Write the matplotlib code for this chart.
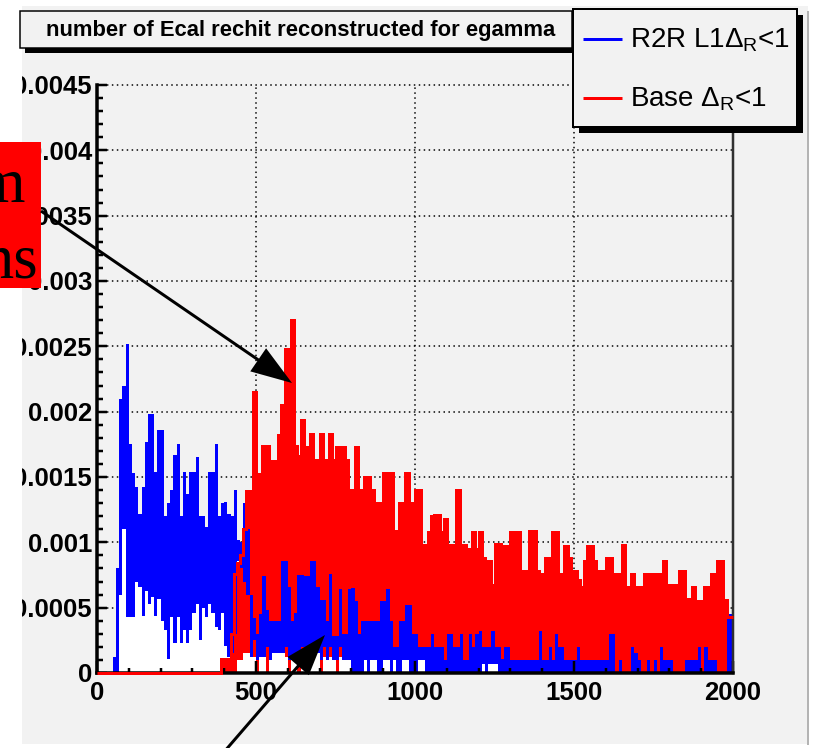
import matplotlib
matplotlib.use("Agg")
import matplotlib.pyplot as plt
import numpy as np
from matplotlib.patches import Rectangle, FancyArrow
from matplotlib.ticker import MultipleLocator, FuncFormatter

plt.rcParams['font.family'] = ['Liberation Sans', 'DejaVu Sans']
plt.rcParams['mathtext.fontset'] = 'custom'
plt.rcParams['mathtext.rm'] = 'Liberation Sans'
plt.rcParams['mathtext.it'] = 'Liberation Sans'

W, H, DPI = 814, 748, 100
PX = 72.0 / DPI          # points per pixel

# histogram contents, 10-wide bins from 0 to 2000, in units of 1e-4
bin_width = 10
scale = 1e-4

# R2R L1 dR<1 : upper and lower edge of the drawn band per bin
r2r_hi = [
    0, 0, 0, 0, 0, 1.2, 8, 21, 22, 25.2,
    17.5, 15.3, 14.2, 12.2, 14.2, 17.7, 19.8, 19.8, 15.4, 18.6,
    18.6, 12, 13, 14, 16.7, 17.5, 12, 15.4, 13.7, 15.4,
    15.4, 16.5, 12, 12, 11.2, 15.4, 15.4, 17.5, 12, 13,
    13.1, 12.2, 12, 14, 10.2, 10, 13, 11, 6, 4.2,
    3, 4.5, 7.4, 4.8, 4, 4, 4, 4, 8.6, 8.6,
    6.6, 4, 4.6, 7.5, 7.5, 7.4, 7.4, 8.6, 8.6, 6.6,
    5.6, 5.6, 4, 7.6, 2.8, 2.8, 6.4, 3, 3, 6.4,
    6.5, 5.5, 3, 4, 4, 4, 4, 4, 4, 5.5,
    5.5, 6.4, 4, 2, 2, 4, 4, 5.2, 5.2, 3,
    3, 2, 2, 2, 2, 3, 2, 2, 2, 1,
    3, 3, 2, 2, 3, 1, 1, 3, 2, 3,
    3.2, 2, 2, 2, 3.2, 2, 2, 1.1, 2, 2,
    1, 1, 1, 1, 1, 1, 1, 1, 1, 3.2,
    1, 1, 2, 1, 3, 2, 2, 1, 1, 1,
    1, 2, 1, 1, 1, 1, 1, 1, 1, 1,
    1, 3, 3, 0, 1, 0, 0, 0, 2, 1.5,
    1, 0, 0, 1, 0, 1, 0, 2, 1, 1,
    1, 0, 0, 0, 0, 1, 1, 1, 1, 2,
    0, 2, 1, 1, 1, 0, 0, 0, 4.5, 4.5,
]
r2r_lo = [
    0, 0, 0, 0, 0, 0, 0, 6, 11, 4.3,
    4.3, 4.3, 7, 6.6, 4.4, 6.3, 5.3, 5.8, 4.4, 5.7,
    4, 3.3, 1.1, 4.3, 2.3, 4.3, 2.3, 3.3, 2.3, 3.3,
    4.6, 5.3, 2.5, 5, 4.3, 5.3, 4.6, 3.5, 3.3, 4.6,
    2.1, 1.2, 1.5, 3, 8.6, 8, 7, 6, 1.2, 2.5,
    1, 1.2, 1.2, 2, 1, 1.5, 1.5, 1.5, 1.5, 2,
    1, 1, 1, 1, 2, 2, 1, 1.5, 1.5, 1.5,
    1, 2, 1, 2, 1, 1, 2, 1, 1, 1,
    0, 0, 0, 0, 1, 0, 1, 1, 0, 0,
    1, 1, 0, 1, 0, 0, 1, 1, 0, 0,
    0, 1, 1, 0, 0, 0, 0, 0, 0, 0,
    0, 0, 0, 0, 0, 0, 0, 0, 0, 0,
    0, 0.7, 0, 0.7, 0.7, 0.7, 0, 0, 0, 0,
    0, 0, 0, 0, 0, 0, 0, 0, 0, 0,
    0, 0, 0, 0, 0, 0, 0, 0, 0, 0,
    0, 0, 0, 0, 0, 0, 0, 0, 0, 0,
    0, 0, 0, 0, 0, 0, 0, 0, 0, 0,
    0, 0, 0, 0, 0, 0, 0, 0, 0, 0,
    0, 0, 0, 0, 0, 0, 0, 0, 0, 0,
    0, 0, 0, 0, 0, 0, 0, 0, 0, 0,
]

# Base dR<1
base_hi = [
    0, 0, 0, 0, 0, 0, 0, 0, 0, 0,
    0, 0, 0, 0, 0, 0, 0, 0, 0, 0,
    0, 0, 0, 0, 0, 0, 0, 0, 0, 0,
    0, 0, 0, 0, 0, 0, 0, 0, 0, 1.1,
    1.1, 1.1, 3, 7.6, 8.4, 9, 11, 13.9, 12.7, 21.5,
    15.2, 15.2, 17.4, 17.4, 15.3, 16.2, 16.2, 18.2, 20.5, 24.8,
    15.3, 27, 17.4, 16.6, 19.4, 17.3, 17.3, 18.3, 16.3, 16.3,
    18.3, 16.3, 16.3, 18.3, 16.3, 17.3, 17.3, 17.3, 16.3, 12,
    14, 17.3, 14, 13.1, 15, 15, 14, 10.9, 13, 7.8,
    15.3, 15.3, 15.3, 10.9, 10.9, 13, 13, 15.3, 13, 11.8,
    14, 14, 9.8, 9.8, 10.8, 12, 12.1, 12.1, 10.8, 11.8,
    8.7, 9.8, 9.8, 14, 9.8, 9.8, 8.5, 9.5, 10.8, 9.5,
    10.8, 8.8, 8.6, 8.6, 6.7, 9.9, 9.9, 8.6, 9.7, 9.7,
    10.8, 10.8, 10.8, 7.8, 7.8, 6.6, 10.9, 10.9, 7.8, 6.7,
    7.6, 8.8, 8.8, 10.8, 10.8, 7.6, 7.6, 9.7, 8.8, 7.8,
    7.8, 7.1, 6.6, 8.6, 9.7, 9.7, 8.6, 7.8, 7.8, 7.8,
    8.8, 8.8, 5.5, 7.6, 7.6, 9.8, 6.6, 6.6, 7.6, 6.6,
    6.6, 5.3, 7.6, 7.6, 7.6, 7.6, 6.6, 7.6, 8.6, 6.7,
    6.7, 6.7, 4.4, 7.8, 7.8, 5.7, 5.7, 6.6, 5.5, 5.5,
    4.4, 6.6, 5.6, 7.6, 5.6, 8.6, 8.6, 5.6, 4.3, 4.3,
]
base_lo = [
    0, 0, 0, 0, 0, 0, 0, 0, 0, 0,
    0, 0, 0, 0, 0, 0, 0, 0, 0, 0,
    0, 0, 0, 0, 0, 0, 0, 0, 0, 0,
    0, 0, 0, 0, 0, 0, 0, 0, 0, 0,
    0, 0, 0, 0, 1, 1, 1.5, 1.5, 1.2, 1.2,
    0, 1.2, 1.2, 0, 1.2, 1.5, 1.5, 1.5, 1.5, 1.2,
    0, 2.3, 1.2, 0, 1.2, 1.2, 1.2, 1.5, 1.5, 1.5,
    0, 1.2, 1.2, 1.2, 1.2, 0, 1.2, 1.2, 1.2, 1.2,
    1, 1, 1, 1, 1, 1, 1, 1, 1, 1,
    1, 1, 1, 1, 1, 1, 1, 1, 1, 0,
    0, 1, 1, 1, 1, 1, 1, 1, 1, 1,
    1, 1, 1, 1, 1, 1, 0, 0, 1, 1,
    1, 1, 1, 1, 1, 1, 1, 1, 1, 1,
    1, 1, 1, 1, 1, 1, 1, 1, 1, 1,
    1, 0, 0, 1, 1, 1, 1, 0, 1, 1,
    1, 1, 1, 1, 1, 1, 1, 1, 1, 1,
    0, 0, 0, 0, 0, 0, 0, 0, 0, 0,
    0, 0, 0, 0, 0, 0, 0, 0, 0, 0,
    0, 0, 0, 0, 0, 0, 0, 0, 0, 0,
    0, 0, 0, 0, 0, 0, 0, 0, 0, 0,
]

x_ticks = [0, 500, 1000, 1500, 2000]
y_max = 0.0045
y_step = 0.0005

title_text = "number of Ecal rechit reconstructed for egamma"
legend_labels = [r"R2R L1$\Delta_R$<1", r"Base $\Delta_R$<1"]
note_lines = ["m", "ns"]

canvas_gray = '#f2f2f2'
c_blue = '#0000ff'
c_red = '#ff0000'


def stepped(vals):
    v = np.asarray(vals, dtype=float) * scale
    return np.append(v, v[-1])


fig = plt.figure(figsize=(W / DPI, H / DPI), dpi=DPI)
fig.patch.set_facecolor('white')


def pixel_axes(z):
    a = fig.add_axes([0, 0, 1, 1], zorder=z)
    a.set_xlim(0, W)
    a.set_ylim(H, 0)
    a.axis('off')
    a.patch.set_alpha(0)
    return a


bg = pixel_axes(0)
bg.add_patch(Rectangle((22, 6), 786, 738, facecolor=canvas_gray, edgecolor='none'))

# main frame
ax = fig.add_axes([97 / W, 1 - 673 / H, 636 / W, 588 / H], zorder=1)
ax.set_facecolor(canvas_gray)
edges = np.arange(len(base_hi) + 1) * bin_width

# empty (white) part under each band
ax.fill_between(edges, 0, stepped(base_lo), step='post', color='white', lw=0, zorder=1.0)
ax.fill_between(edges, 0, stepped(r2r_lo), step='post', color='white', lw=0, zorder=1.0)
ax.fill_between(edges, stepped(base_lo), stepped(base_hi), step='post', color=c_red, lw=0, zorder=1.1)
ax.fill_between(edges, stepped(r2r_lo), stepped(r2r_hi), step='post', color=c_blue, lw=0, zorder=1.2)
ax.stairs(np.asarray(base_hi) * scale, edges, color=c_red, lw=3 * PX, baseline=None,
          zorder=2.6, clip_on=False)

ax.set_xlim(x_ticks[0], x_ticks[-1])
ax.set_ylim(0, y_max)

# dotted grid behind the histograms
for v in np.arange(y_step, y_max + 1e-9, y_step):
    ax.axhline(v, color='black', lw=1.5 * PX, ls=(0, (1, 2.3)), zorder=0.5, clip_on=False)
for v in x_ticks[1:-1]:
    ax.axvline(v, color='black', lw=1.5 * PX, ls=(0, (1, 2.3)), zorder=0.5)

ax.xaxis.set_major_locator(MultipleLocator(500))
ax.xaxis.set_minor_locator(MultipleLocator(100))
ax.yaxis.set_major_locator(MultipleLocator(y_step))
ax.yaxis.set_minor_locator(MultipleLocator(0.0001))
fmt = FuncFormatter(lambda v, _: f"{v:g}")
ax.xaxis.set_major_formatter(fmt)
ax.yaxis.set_major_formatter(fmt)

ax.tick_params(which='both', direction='in', top=False, right=False, color='black')
ax.tick_params(axis='y', which='major', length=10 * PX, width=2.5 * PX, pad=5 * PX)
ax.tick_params(axis='y', which='minor', length=6 * PX, width=2.5 * PX)
ax.tick_params(axis='x', which='major', length=12 * PX, width=2.5 * PX, pad=8 * PX)
ax.tick_params(axis='x', which='minor', length=5 * PX, width=2.5 * PX)
for lab in ax.get_xticklabels() + ax.get_yticklabels():
    lab.set_fontweight('bold')
    lab.set_fontsize(18.5)

for side in ('left', 'bottom'):
    ax.spines[side].set_linewidth(3.5 * PX)
    ax.spines[side].set_color('black')
ax.spines['top'].set_visible(False)
ax.spines['right'].set_linewidth(2.5 * PX)
ax.spines['right'].set_color('#303030')

# overlay: margins, boxes, notes and arrows
ov = pixel_axes(5)
ov.add_patch(Rectangle((0, 0), 22, H, facecolor='white', edgecolor='none'))
ov.add_patch(Rectangle((0, 0), W, 6, facecolor='white', edgecolor='none'))
ov.add_patch(Rectangle((808, 0), W - 808, H, facecolor='white', edgecolor='none'))
ov.add_patch(Rectangle((0, 744), W, H - 744, facecolor='white', edgecolor='none'))
ov.plot([807.5, 807.5], [12, 744], color='#b4b4b4', lw=2 * PX)

# title pave with shadow
ov.add_patch(Rectangle((25, 16), 552, 37, facecolor='black', edgecolor='none'))
ov.add_patch(Rectangle((20, 11), 552, 37, facecolor=canvas_gray, edgecolor='black', lw=1.5 * PX))
ov.text(301, 30, title_text, ha='center', va='center', fontsize=15.8, fontweight='bold')

# legend with shadow
ov.add_patch(Rectangle((579, 15), 224, 118, facecolor='black', edgecolor='none'))
ov.add_patch(Rectangle((573, 9), 224, 118, facecolor=canvas_gray, edgecolor='black', lw=2 * PX))
for (ly, col, lab) in [(39, c_blue, legend_labels[0]), (98, c_red, legend_labels[1])]:
    ov.plot([583, 622], [ly, ly], color=col, lw=3 * PX, solid_capstyle='butt')
    ov.text(630, ly + 1, lab, ha='left', va='center', fontsize=20)

# red note box, cut off by the left edge
ov.add_patch(Rectangle((0, 142), 41, 146, facecolor=c_red, edgecolor='none'))
ov.text(25, 202, note_lines[0], ha='right', va='baseline', fontsize=45,
        family='Liberation Serif', color='black')
ov.text(38, 277, note_lines[1], ha='right', va='baseline', fontsize=45,
        family='Liberation Serif', color='black')

# arrows pointing at the two peaks
for (x0, y0, x1, y1) in [(41, 211, 292, 383), (224, 752, 325, 635)]:
    ov.add_patch(FancyArrow(x0, y0, x1 - x0, y1 - y0, width=3, head_width=28,
                            head_length=41, length_includes_head=True,
                            color='black', lw=0))

fig.savefig('out.png', dpi=DPI, facecolor=fig.get_facecolor())
